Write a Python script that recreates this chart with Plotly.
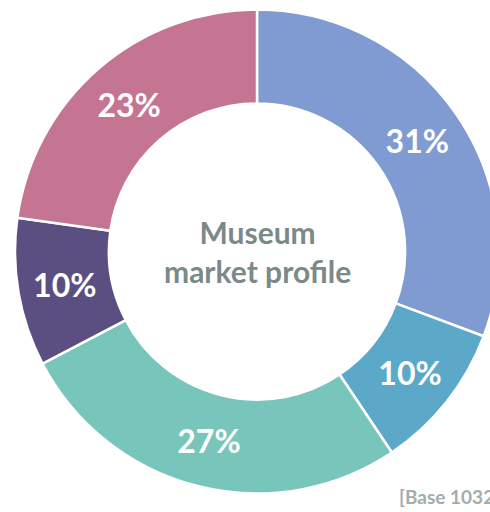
import plotly.graph_objects as go

labels = ["Segment A", "Segment B", "Segment C", "Segment D", "Segment E"]
values = [31, 10, 27, 10, 23]
colors = ["#7f9bd1", "#5ba8c8", "#78c6bb", "#5a4f80", "#c47592"]
center_title = "Museum<br>market profile"
base_note = "[Base 1032]"

W, H = 520, 512
cx, cy, R = 257, 251.5, 242

fig = go.Figure(go.Pie(
    labels=labels,
    values=values,
    hole=0.612,
    sort=False,
    direction="clockwise",
    rotation=0,
    marker=dict(colors=colors, line=dict(color="white", width=2.5)),
    texttemplate="%{value}%",
    textposition="inside",
    insidetextorientation="horizontal",
    textfont=dict(family="Lato", size=32, color="white", weight="bold"),
    domain=dict(x=[(cx - R) / W, (cx + R) / W], y=[(H - cy - R) / H, (H - cy + R) / H]),
    showlegend=False,
    hoverinfo="none",
))

fig.add_annotation(
    x=cx / W, y=(H - cy) / H, xref="paper", yref="paper",
    text=center_title, showarrow=False,
    font=dict(family="Lato", size=30, color="#7b8a88", weight="bold"),
    align="center",
)
fig.add_annotation(
    x=397 / W, y=(H - 496) / H, xref="paper", yref="paper",
    xanchor="left", yanchor="middle",
    text=base_note, showarrow=False,
    font=dict(family="Lato", size=19, color="#a3adab", weight="bold"),
)

fig.update_layout(
    width=W, height=H,
    margin=dict(l=0, r=0, t=0, b=0),
    paper_bgcolor="white", plot_bgcolor="white",
    uniformtext=dict(minsize=32, mode="show"),
)

fig.write_html(
    "out.html",
    config={"displayModeBar": False},
    post_script="document.body.style.margin='0';document.body.style.overflow='hidden';"
                "document.documentElement.style.overflow='hidden';",
)
